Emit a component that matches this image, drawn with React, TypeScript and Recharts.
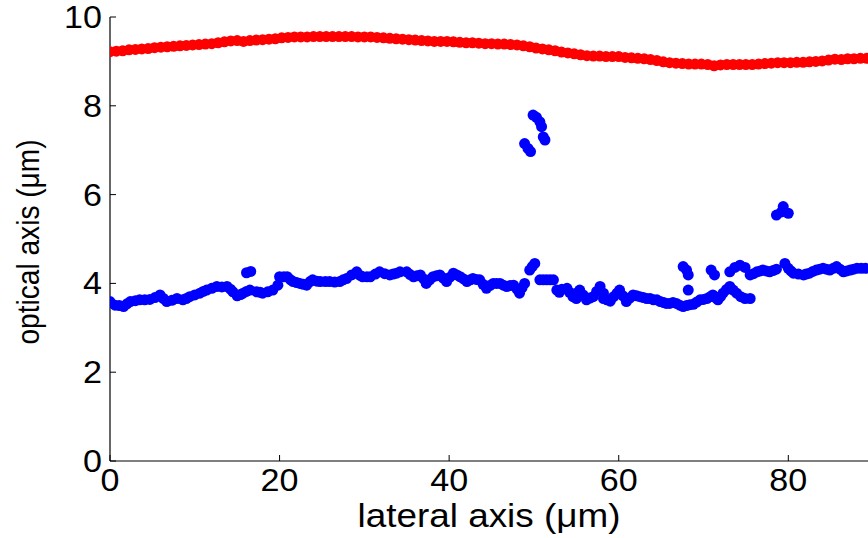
import React from "react";
import { ScatterChart, Scatter, XAxis, YAxis } from "recharts";

// tick values
const xTicks = [0, 20, 40, 60, 80];
const yTicks = [0, 2, 4, 6, 8, 10];

// upper surface (red), [lateral, optical] in µm
const redCurve: [number, number][] = [
  [0, 9.22], [0.75, 9.23], [1.5, 9.24], [2.25, 9.26], [3, 9.27], [3.75, 9.28],
  [4.5, 9.29], [5.25, 9.31], [6, 9.32], [6.75, 9.33], [7.5, 9.34], [8.25, 9.35],
  [9, 9.36], [9.75, 9.37], [10.5, 9.38], [11.25, 9.39], [12, 9.4], [12.75, 9.42],
  [13.5, 9.44], [14.25, 9.46], [15, 9.47], [15.75, 9.45], [16.5, 9.47], [17.25, 9.48],
  [18, 9.49], [18.75, 9.5], [19.5, 9.51], [20.25, 9.53], [21, 9.54], [21.75, 9.55],
  [22.5, 9.55], [23.25, 9.55], [24, 9.56], [24.75, 9.56], [25.5, 9.56], [26.25, 9.56],
  [27, 9.56], [27.75, 9.56], [28.5, 9.56], [29.25, 9.55], [30, 9.55], [30.75, 9.55],
  [31.5, 9.54], [32.25, 9.53], [33, 9.52], [33.75, 9.51], [34.5, 9.5], [35.25, 9.49],
  [36, 9.48], [36.75, 9.47], [37.5, 9.46], [38.25, 9.45], [39, 9.45], [39.75, 9.45],
  [40.5, 9.44], [41.25, 9.43], [42, 9.42], [42.75, 9.42], [43.5, 9.41], [44.25, 9.4],
  [45, 9.4], [45.75, 9.39], [46.5, 9.39], [47.25, 9.38], [48, 9.37], [48.75, 9.35],
  [49.5, 9.33], [50.25, 9.3], [51, 9.28], [51.75, 9.26], [52.5, 9.24], [53.25, 9.21],
  [54, 9.19], [54.75, 9.17], [55.5, 9.15], [56.25, 9.13], [57, 9.12], [57.75, 9.12],
  [58.5, 9.11], [59.25, 9.11], [60, 9.11], [60.75, 9.09], [61.5, 9.08], [62.25, 9.07],
  [63, 9.06], [63.75, 9.04], [64.5, 9.02], [65.25, 8.99], [66, 8.97], [66.75, 8.96],
  [67.5, 8.95], [68.25, 8.94], [69, 8.94], [69.75, 8.94], [70.5, 8.93], [71.25, 8.9],
  [72, 8.92], [72.75, 8.93], [73.5, 8.93], [74.25, 8.93], [75, 8.93], [75.75, 8.93],
  [76.5, 8.94], [77.25, 8.95], [78, 8.96], [78.75, 8.97], [79.5, 8.97], [80.25, 8.97],
  [81, 8.98], [81.75, 8.98], [82.5, 8.99], [83.25, 9.0], [84, 9.01], [84.75, 9.03],
  [85.5, 9.05], [86.25, 9.04], [87, 9.06], [87.75, 9.06], [88.5, 9.07], [89.25, 9.07],
];

// lower surface (blue), main band
const blueBand: [number, number][] = [
  [0, 3.59], [0.6, 3.51], [1.1, 3.5], [1.6, 3.48], [2.0, 3.54], [2.4, 3.59], [3.0, 3.61],
  [3.5, 3.63], [4.1, 3.63], [4.7, 3.64], [5.3, 3.68], [5.9, 3.74], [6.3, 3.66], [6.7, 3.59],
  [7.3, 3.62], [7.9, 3.66], [8.6, 3.63], [9.0, 3.66], [9.4, 3.7], [10.0, 3.74], [10.6, 3.78],
  [11.0, 3.82], [11.4, 3.85], [12.0, 3.89], [12.6, 3.93], [13.2, 3.92], [13.8, 3.93],
  [14.2, 3.87], [14.5, 3.81], [15.0, 3.72], [15.4, 3.75], [15.7, 3.78], [16.1, 3.82],
  [16.5, 3.85], [17.3, 3.81], [17.7, 3.8], [18.0, 3.78], [18.6, 3.81], [19.2, 3.85],
  [19.8, 3.96], [20.0, 4.15], [20.5, 4.15], [20.9, 4.15], [21.3, 4.08], [21.6, 4.04],
  [22.0, 4.02], [22.4, 4.0], [22.8, 3.98], [23.2, 3.96], [23.6, 4.04], [23.9, 4.08],
  [24.4, 4.05], [24.8, 4.04], [25.4, 4.04], [25.9, 4.04], [26.5, 4.03], [27.1, 4.04],
  [27.5, 4.08], [27.9, 4.11], [28.5, 4.19], [29.1, 4.26], [29.5, 4.18], [29.8, 4.15],
  [30.3, 4.15], [30.7, 4.15], [31.3, 4.21], [31.8, 4.26], [32.4, 4.22], [33.0, 4.19],
  [33.4, 4.21], [33.8, 4.23], [34.2, 4.26], [35.0, 4.26], [35.4, 4.2], [35.8, 4.15],
  [36.2, 4.17], [36.6, 4.19], [37.0, 4.1], [37.3, 4.0], [37.7, 4.08], [38.1, 4.15],
  [38.5, 4.17], [38.9, 4.19], [39.3, 4.12], [39.7, 4.04], [40.1, 4.14], [40.5, 4.23],
  [40.9, 4.19], [41.3, 4.15], [41.7, 4.1], [42.1, 4.04], [42.5, 4.08], [42.8, 4.11],
  [43.2, 4.09], [43.6, 4.08], [44.0, 3.98], [44.4, 3.89], [44.8, 3.95], [45.2, 4.0],
  [45.6, 4.0], [46.0, 4.0], [46.4, 3.96], [46.8, 3.93], [47.2, 3.95], [47.6, 3.96],
  [48.0, 3.87], [48.3, 3.78], [48.6, 3.9], [48.9, 4.0], [49.5, 4.3], [49.8, 4.38],
  [50.1, 4.45], [50.7, 4.08], [51.1, 4.08], [51.5, 4.08], [51.9, 4.08], [52.3, 4.08],
  [52.7, 3.85], [53.0, 3.8], [53.3, 3.87], [53.9, 3.89], [54.2, 3.8], [54.6, 3.7],
  [55.0, 3.78], [55.0, 3.66], [55.4, 3.85], [55.8, 3.74], [56.2, 3.63], [56.6, 3.67],
  [57.0, 3.7], [57.4, 3.82], [57.8, 3.93], [58.2, 3.78], [58.2, 3.66], [58.6, 3.63],
  [59.0, 3.6], [59.4, 3.7], [59.8, 3.78], [60.1, 3.85], [60.5, 3.72], [60.9, 3.59],
  [61.3, 3.67], [61.7, 3.74], [62.1, 3.72], [62.5, 3.7], [62.9, 3.68], [63.3, 3.66],
  [63.7, 3.66], [64.1, 3.63], [64.5, 3.63], [64.9, 3.59], [65.3, 3.57], [65.6, 3.55],
  [66.0, 3.55], [66.4, 3.57], [66.8, 3.55], [67.2, 3.51], [67.6, 3.48], [68.0, 3.5],
  [68.4, 3.52], [68.8, 3.53], [69.2, 3.58], [69.6, 3.63], [70.0, 3.64], [70.4, 3.66],
  [70.8, 3.7], [71.1, 3.74], [71.4, 3.68], [71.7, 3.63], [72.0, 3.7], [72.3, 3.78],
  [72.7, 3.86], [73.1, 3.93], [73.5, 3.85], [73.9, 3.78], [74.4, 3.7], [74.9, 3.66],
  [75.5, 3.66], [75.9, 4.22], [76.3, 4.26], [76.7, 4.28], [77.0, 4.3], [77.4, 4.28],
  [77.8, 4.26], [78.2, 4.29], [78.6, 4.32], [79.6, 4.45], [80.0, 4.34], [80.3, 4.28],
  [80.6, 4.23], [81.2, 4.21], [81.8, 4.19], [82.1, 4.21], [82.5, 4.23], [82.9, 4.27],
  [83.3, 4.3], [83.7, 4.32], [84.1, 4.34], [84.5, 4.32], [84.9, 4.3], [85.3, 4.34],
  [85.7, 4.38], [86.1, 4.32], [86.5, 4.26], [86.9, 4.28], [87.3, 4.3], [87.7, 4.32],
  [88.1, 4.34], [88.6, 4.34], [89.1, 4.34],
];

// lower surface (blue), stray detections
const blueOutliers: [number, number][] = [
  [16.1, 4.24], [16.6, 4.27],
  [48.9, 7.15], [49.3, 7.04], [49.6, 6.97], [49.9, 7.79], [50.3, 7.74], [50.7, 7.64],
  [50.9, 7.53], [51.1, 7.3], [51.3, 7.23],
  [67.6, 4.38], [68.0, 4.3], [68.2, 4.19], [68.2, 3.85],
  [70.9, 4.3], [71.3, 4.19], [73.1, 4.26], [73.7, 4.36], [74.3, 4.41], [74.9, 4.36], [75.5, 4.19],
  [78.6, 5.54], [79.2, 5.61], [79.4, 5.73], [80.0, 5.58],
];

const toPoints = (arr: [number, number][]) => arr.map(([x, y]) => ({ x, y }));
const redData = toPoints(redCurve);
const blueData = toPoints([...blueBand, ...blueOutliers]);

const FONT = "'Liberation Sans', Arial, Helvetica, sans-serif";
const STRETCH = 1.1;

function BottomTick({ x, y, payload }: any) {
  return (
    <g>
      <line x1={x} y1={y} x2={x} y2={y - 6} stroke="#000" />
      <text
        transform={`translate(${x},${y + 30}) scale(${STRETCH},1)`}
        textAnchor="middle"
        fontSize={31}
        fontFamily={FONT}
        fill="#000"
      >
        {payload.value}
      </text>
    </g>
  );
}

function TopTick({ x, y }: any) {
  return <line x1={x} y1={y} x2={x} y2={y + 6} stroke="#000" />;
}

function LeftTick({ x, y, payload }: any) {
  return (
    <g>
      <line x1={x} y1={y} x2={x + 6} y2={y} stroke="#000" />
      <text
        transform={`translate(${x - 8},${y + 11}) scale(${STRETCH},1)`}
        textAnchor="end"
        fontSize={31}
        fontFamily={FONT}
        fill="#000"
      >
        {payload.value}
      </text>
    </g>
  );
}

function RightTick({ x, y }: any) {
  return <line x1={x} y1={y} x2={x - 6} y2={y} stroke="#000" />;
}

function XLabel({ viewBox }: any) {
  const cx = viewBox.x + viewBox.width / 2;
  return (
    <text
      x={cx}
      y={viewBox.y + 66}
      textAnchor="middle"
      fontSize={33}
      fontFamily={FONT}
      fill="#000"
      textLength={263}
      lengthAdjust="spacingAndGlyphs"
    >
      lateral axis (μm)
    </text>
  );
}

function YLabel({ viewBox }: any) {
  const cy = viewBox.y + viewBox.height / 2 + 3;
  const bx = 39;
  return (
    <text
      x={bx}
      y={cy}
      transform={`rotate(-90, ${bx}, ${cy})`}
      textAnchor="middle"
      fontSize={32}
      fontFamily={FONT}
      fill="#000"
      textLength={205}
      lengthAdjust="spacingAndGlyphs"
    >
      optical axis (μm)
    </text>
  );
}

const dot = (color: string, r: number) => (props: any) =>
  <circle cx={props.cx} cy={props.cy} r={r} fill={color} />;

export default function App() {
  return (
    <div style={{ position: "absolute", left: 0, top: 0, width: 868, height: 538, background: "#fff" }}>
      <ScatterChart width={868} height={538} margin={{ top: 17, right: 0, bottom: 0, left: 0 }}>
        <XAxis
          xAxisId={0}
          type="number"
          dataKey="x"
          domain={[0, 89.4]}
          ticks={xTicks}
          allowDataOverflow
          height={77}
          tickSize={0}
          tickMargin={0}
          tickLine={false}
          axisLine={{ stroke: "#000", strokeWidth: 1.2 }}
          tick={<BottomTick />}
          label={{ content: (p: any) => <XLabel {...p} /> }}
        />
        <XAxis
          xAxisId="top"
          orientation="top"
          type="number"
          dataKey="x"
          domain={[0, 89.4]}
          ticks={xTicks}
          allowDataOverflow
          height={0}
          tickSize={0}
          tickMargin={0}
          tickLine={false}
          axisLine={{ stroke: "#000", strokeWidth: 1.2 }}
          tick={<TopTick />}
        />
        <YAxis
          yAxisId={0}
          type="number"
          dataKey="y"
          domain={[0, 10]}
          ticks={yTicks}
          width={110}
          tickSize={0}
          tickMargin={0}
          tickLine={false}
          axisLine={{ stroke: "#000", strokeWidth: 1.2 }}
          tick={<LeftTick />}
          label={{ content: (p: any) => <YLabel {...p} /> }}
        />
        <YAxis
          yAxisId="right"
          orientation="right"
          type="number"
          dataKey="y"
          domain={[0, 10]}
          ticks={yTicks}
          width={0}
          tickSize={0}
          tickMargin={0}
          tickLine={false}
          axisLine={{ stroke: "#000", strokeWidth: 1.2 }}
          tick={<RightTick />}
        />
        <Scatter data={blueData} fill="#0000ff" shape={dot("#0000ff", 5.5)} isAnimationActive={false} />
        <Scatter data={redData} fill="#ff0000" shape={dot("#ff0000", 5.5)} isAnimationActive={false} />
      </ScatterChart>
    </div>
  );
}
